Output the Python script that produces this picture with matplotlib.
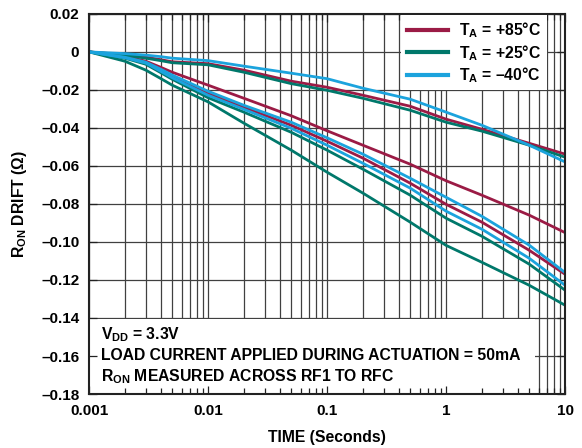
import numpy as np
import matplotlib.pyplot as plt
from matplotlib.patches import Rectangle
from matplotlib.ticker import FixedLocator, FuncFormatter, NullFormatter

plt.rcParams['font.family'] = ['Liberation Sans', 'DejaVu Sans']
plt.rcParams['font.weight'] = 'bold'
plt.rcParams['mathtext.fontset'] = 'custom'
plt.rcParams['mathtext.rm'] = 'Liberation Sans:bold'
plt.rcParams['mathtext.it'] = 'Liberation Sans:bold'
plt.rcParams['mathtext.bf'] = 'Liberation Sans:bold'

# time axis (seconds)
time_s = [0.001, 0.002, 0.003, 0.004, 0.005, 0.01, 0.02, 0.05, 0.1, 0.2, 0.5, 1, 2, 5, 10]

# R_ON drift (ohm), three parts per temperature
drift_85 = [
    [0, -0.0015, -0.0028, -0.0041, -0.0052, -0.0062, -0.0096, -0.0154, -0.0186, -0.0228, -0.0286, -0.0354, -0.0407, -0.0481, -0.0538],
    [0, -0.0023, -0.0049, -0.0081, -0.0107, -0.0175, -0.0244, -0.0336, -0.0415, -0.0491, -0.0591, -0.0678, -0.0754, -0.0859, -0.0951],
    [0, -0.0028, -0.0057, -0.0096, -0.0128, -0.0217, -0.0291, -0.0386, -0.0470, -0.0559, -0.0691, -0.0802, -0.0896, -0.1044, -0.1170],
]
drift_25 = [
    [0, -0.0017, -0.0033, -0.0046, -0.0057, -0.0068, -0.0107, -0.0167, -0.0202, -0.0244, -0.0307, -0.0370, -0.0417, -0.0491, -0.0554],
    [0, -0.0033, -0.0065, -0.0109, -0.0144, -0.0241, -0.0317, -0.0423, -0.0517, -0.0617, -0.0754, -0.0875, -0.0970, -0.1117, -0.1254],
    [0, -0.0049, -0.0096, -0.0140, -0.0175, -0.0263, -0.0375, -0.0517, -0.0633, -0.0743, -0.0896, -0.1018, -0.1107, -0.1228, -0.1333],
]
drift_m40 = [
    [0, -0.0009, -0.0017, -0.0025, -0.0033, -0.0046, -0.0075, -0.0112, -0.0141, -0.0191, -0.0249, -0.0317, -0.0386, -0.0491, -0.0579],
    [0, -0.0028, -0.0054, -0.0091, -0.0122, -0.0207, -0.0281, -0.0370, -0.0452, -0.0538, -0.0665, -0.0765, -0.0865, -0.1017, -0.1161],
    [0, -0.0031, -0.0059, -0.0102, -0.0136, -0.0228, -0.0302, -0.0402, -0.0491, -0.0586, -0.0717, -0.0838, -0.0933, -0.1086, -0.1228],
]

labels = ['T$_A$ = +85°C', 'T$_A$ = +25°C', 'T$_A$ = \u201340°C']
colors = ['#9b1b45', '#00786b', '#1ba3dd']

fig = plt.figure(figsize=(5.82, 4.48), dpi=100)
ax = fig.add_axes([0.153, 0.1205, 0.818, 0.8485])
ax.set_xscale('log')
ax.set_xlim(0.001, 10)
ax.set_ylim(-0.18, 0.02)

# grid drawn by hand so it sits under the note box
decades = [0.001, 0.01, 0.1, 1]
xgrid = [d * k for d in decades for k in range(1, 10)] + [10]
for xv in xgrid:
    ax.axvline(xv, color='#404040', lw=0.9, zorder=0.5)
for yv in np.arange(-0.18, 0.021, 0.02):
    ax.axhline(yv, color='#404040', lw=0.9, zorder=0.5)

for group, c, lab in zip([drift_85, drift_25, drift_m40], colors, labels):
    for i, ys in enumerate(group):
        ax.plot(time_s, ys, color=c, lw=2.0, label=lab if i == 0 else None, zorder=2)

# white note area at the bottom
ax.add_patch(Rectangle((0.001, -0.18), 5.6 - 0.001, 0.0397, facecolor='white',
                       edgecolor='none', zorder=1))

ax.xaxis.set_major_locator(FixedLocator([0.001, 0.01, 0.1, 1, 10]))
ax.xaxis.set_major_formatter(FuncFormatter(lambda v, p: f'{v:g}'))
ax.xaxis.set_minor_formatter(NullFormatter())
ax.yaxis.set_major_locator(FixedLocator(np.arange(-0.18, 0.021, 0.02)))
ax.yaxis.set_major_formatter(FuncFormatter(
    lambda v, p: '0' if abs(v) < 1e-9 else f'{v:.2f}'.replace('-', '\u2013')))

ax.tick_params(which='both', direction='in', top=True, right=True,
               labelsize=11, colors='#222222', labelcolor='black')
ax.tick_params(which='major', length=6, width=0.9)
ax.tick_params(which='minor', length=4, width=0.9)
ax.tick_params(axis='x', pad=7)
ax.tick_params(axis='y', pad=7)
for s in ax.spines.values():
    s.set_linewidth(1.5)
    s.set_color('#222222')

leg = ax.legend(loc='upper right', bbox_to_anchor=(0.962, 0.997), borderaxespad=0,
                fontsize=11.3, frameon=True, fancybox=False, edgecolor='none',
                framealpha=1, handlelength=2.6, handletextpad=0.75,
                labelspacing=0.17, borderpad=0.35)
leg.set_zorder(5)
for line in leg.get_lines():
    line.set_linewidth(3)

note_kw = dict(transform=ax.transAxes, fontsize=11.3, fontweight='bold', va='center', zorder=4)
ax.text(0.025, (394 - 335) / 380, 'V$_{DD}$ = 3.3V', **note_kw)
ax.text(0.025, (394 - 355) / 380, 'LOAD CURRENT APPLIED DURING ACTUATION = 50mA', **note_kw)
ax.text(0.025, (394 - 376.7) / 380, 'R$_{ON}$ MEASURED ACROSS RF1 TO RFC', **note_kw)

ax.set_xlabel('TIME (Seconds)', fontsize=11.3, fontweight='bold', labelpad=9)
ax.set_ylabel('R$_{ON}$ DRIFT (\u03a9)', fontsize=11.3, fontweight='bold', labelpad=9)

fig.savefig('out.png', dpi=100)
